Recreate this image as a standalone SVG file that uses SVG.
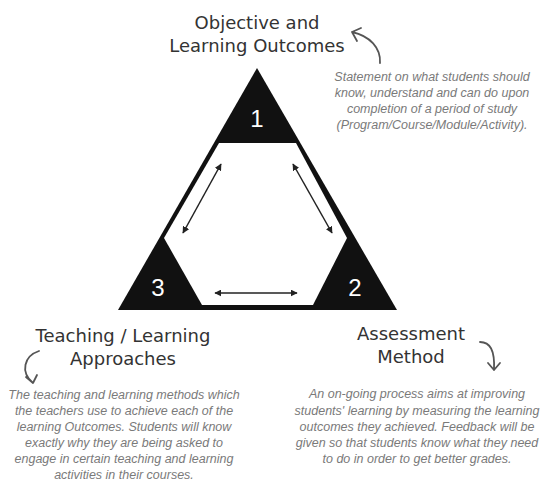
<svg xmlns="http://www.w3.org/2000/svg" width="546" height="482" viewBox="0 0 546 482">
<defs>
<marker id="ah" viewBox="0 0 10 10" refX="9" refY="5" markerWidth="7" markerHeight="7" markerUnits="userSpaceOnUse" orient="auto-start-reverse">
<path d="M0,0 L10,5 L0,10 z" fill="#222"/>
</marker>
<style>
.title{font-family:"DejaVu Sans","Liberation Sans",sans-serif;font-size:18px;fill:#333;text-anchor:middle}
.desc{font-family:"Liberation Sans",Arial,sans-serif;font-size:12.5px;font-style:italic;fill:#7a7a7a;text-anchor:middle}
.num{font-family:"Liberation Sans",Arial,sans-serif;font-size:24px;fill:#fff;text-anchor:middle}
.curl{fill:none;stroke:#555;stroke-width:1.8;stroke-linecap:round;stroke-linejoin:round}
.dbl{fill:none;stroke:#222;stroke-width:1.5;marker-start:url(#ah);marker-end:url(#ah)}
</style>
</defs>
<rect width="546" height="482" fill="#fff"/>
<g id="triangle">
<polygon points="257,68 118,310 397,310" fill="#111"/>
<polygon points="219,143 296,143 347,238 313,305 202,305 164,238" fill="#fff"/>
</g>
<g id="node1">
<text class="num" x="257" y="127">1</text>
<text class="title" x="257" y="29">Objective and</text>
<text class="title" x="257" y="52">Learning Outcomes</text>
<text class="desc" x="432" y="81">Statement on what students should</text>
<text class="desc" x="432" y="97">know, understand and can do upon</text>
<text class="desc" x="432" y="113">completion of a period of study</text>
<text class="desc" x="432" y="129">(Program/Course/Module/Activity).</text>
</g>
<g id="node2">
<text class="num" x="355" y="296">2</text>
<text class="title" x="411" y="340">Assessment</text>
<text class="title" x="411" y="363">Method</text>
<text class="desc" x="417" y="398">An on-going process aims at improving</text>
<text class="desc" x="417" y="415">students' learning by measuring the learning</text>
<text class="desc" x="417" y="431">outcomes they achieved. Feedback will be</text>
<text class="desc" x="417" y="447">given so that students know what they need</text>
<text class="desc" x="417" y="463">to do in order to get better grades.</text>
</g>
<g id="node3">
<text class="num" x="158" y="296">3</text>
<text class="title" x="123" y="342">Teaching / Learning</text>
<text class="title" x="123" y="365">Approaches</text>
<text class="desc" x="124" y="399">The teaching and learning methods which</text>
<text class="desc" x="124" y="415">the teachers use to achieve each of the</text>
<text class="desc" x="124" y="431">learning Outcomes. Students will know</text>
<text class="desc" x="124" y="447">exactly why they are being asked to</text>
<text class="desc" x="124" y="463">engage in certain teaching and learning</text>
<text class="desc" x="124" y="479">activities in their courses.</text>
</g>
<g id="connectors">
<line class="dbl" x1="221" y1="164" x2="183" y2="233"/>
<line class="dbl" x1="293" y1="164" x2="332" y2="233"/>
<line class="dbl" x1="215" y1="293" x2="297" y2="293"/>
<path class="curl" d="M380,63 C381,48 370,36 352,32 M361,28 L352,32 L357,41"/>
<path class="curl" d="M480,342 C490,342 495,350 494,370 M488,363 L494,370 L500,363"/>
<path class="curl" d="M39,351 C24,356 20,372 33,383 M26,377 L33,383 L37,375"/>
</g>
</svg>
